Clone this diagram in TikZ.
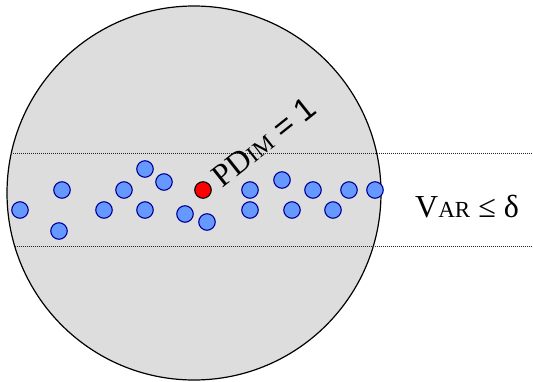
\documentclass[tikz,border=0pt]{standalone}
\usepackage{fontspec}
\setmainfont{Liberation Serif}
\newfontfamily\arialfont{Liberation Sans}
\definecolor{discgray}{RGB}{221,221,221}
\definecolor{dotblue}{RGB}{102,153,255}
\definecolor{dotedge}{RGB}{0,0,153}
\begin{document}
\begin{tikzpicture}[x=1pt,y=-1pt,
  bluedot/.style={circle,fill=dotblue,draw=dotedge,line width=1.1pt,minimum size=16.5pt,inner sep=0pt},
  reddot/.style={circle,fill=red,draw=black,line width=1.1pt,minimum size=16.5pt,inner sep=0pt},
  bandline/.style={line width=0.8pt,dash pattern=on 0.8pt off 1.2pt,black!85},
  lbl/.style={inner sep=0pt,font=\fontsize{32}{34}\selectfont}]
\useasboundingbox (0,0) rectangle (533,381);
\node[circle,draw=black,fill=discgray,line width=1.2pt,minimum size=374pt,inner sep=0pt] (disc) at (194,193) {};
\coordinate (t0) at (11.3,153);
\coordinate (t1) at (533,153);
\coordinate (b0) at (14.7,246);
\coordinate (b1) at (533,246);
\draw[bandline] (t0) -- (t1);
\draw[bandline] (b0) -- (b1);
\node[bluedot] (d1) at (20,210) {};
\node[bluedot] (d2) at (62,190) {};
\node[bluedot] (d3) at (59,231) {};
\node[bluedot] (d4) at (104,210) {};
\node[bluedot] (d5) at (124,190) {};
\node[bluedot] (d6) at (145,169) {};
\node[bluedot] (d7) at (145,210) {};
\node[bluedot] (d8) at (164,182) {};
\node[bluedot] (d9) at (185,214) {};
\node[bluedot] (d10) at (207,222) {};
\node[bluedot] (d11) at (250,190) {};
\node[bluedot] (d12) at (250,210) {};
\node[bluedot] (d13) at (282,180) {};
\node[bluedot] (d14) at (292,210) {};
\node[bluedot] (d15) at (313,190) {};
\node[bluedot] (d16) at (333,210) {};
\node[bluedot] (d17) at (349,190) {};
\node[bluedot] (d18) at (375,190) {};
\node[reddot] (r) at (203,190) {};
\node[lbl,anchor=base west,rotate=38.5] (pdim) at (222,189) {PD{\fontsize{23}{25}\selectfont IM}\arialfont\ = 1};
\node[lbl,anchor=base west] (var) at (415,217) {V{\fontsize{23}{25}\selectfont AR} ≤ δ};
\end{tikzpicture}
\end{document}
